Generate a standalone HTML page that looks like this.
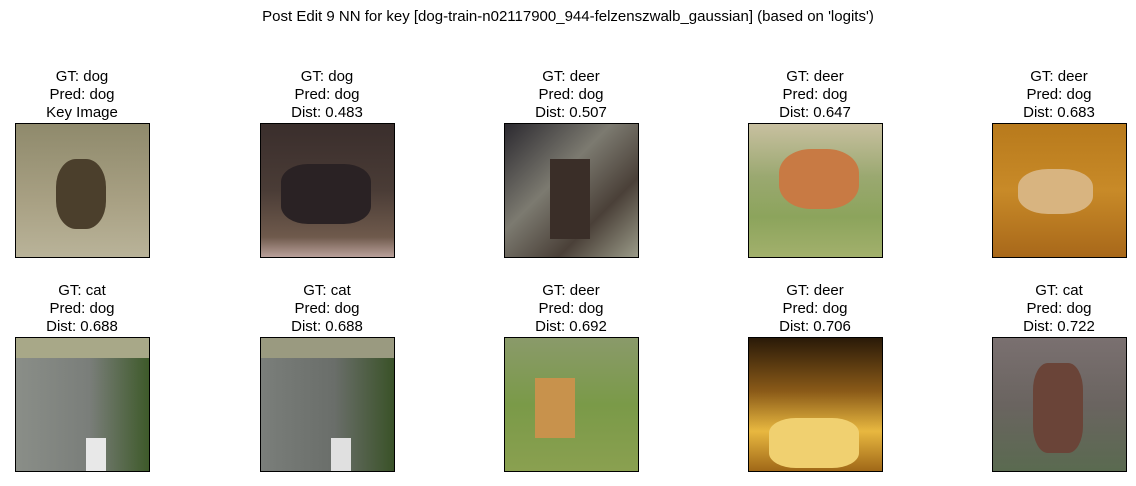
<!DOCTYPE html>
<html><head><meta charset="utf-8"><style>
body{margin:0;width:1136px;height:486px;background:#fff;font-family:"Liberation Sans","DejaVu Sans",sans-serif;position:relative;overflow:hidden}
.t{position:absolute;top:8px;left:0;width:1136px;text-align:center;font-size:15px;color:#000}
.c{position:absolute;width:200px;text-align:center;font-size:15px;line-height:18px;color:#000}
.im{position:absolute;width:133px;height:133px;border:1px solid #000;overflow:hidden}
.im div{position:absolute}
</style></head><body>
<div class="t">Post Edit 9 NN for key [dog-train-n02117900_944-felzenszwalb_gaussian] (based on 'logits')</div>

<div class="c" style="left:-18px;top:68px">GT: dog<br>Pred: dog<br>Key Image</div>
<div class="c" style="left:227px;top:68px">GT: dog<br>Pred: dog<br>Dist: 0.483</div>
<div class="c" style="left:471px;top:68px">GT: deer<br>Pred: dog<br>Dist: 0.507</div>
<div class="c" style="left:715px;top:68px">GT: deer<br>Pred: dog<br>Dist: 0.647</div>
<div class="c" style="left:959px;top:68px">GT: deer<br>Pred: dog<br>Dist: 0.683</div>

<div class="c" style="left:-18px;top:282px">GT: cat<br>Pred: dog<br>Dist: 0.688</div>
<div class="c" style="left:227px;top:282px">GT: cat<br>Pred: dog<br>Dist: 0.688</div>
<div class="c" style="left:471px;top:282px">GT: deer<br>Pred: dog<br>Dist: 0.692</div>
<div class="c" style="left:715px;top:282px">GT: deer<br>Pred: dog<br>Dist: 0.706</div>
<div class="c" style="left:959px;top:282px">GT: cat<br>Pred: dog<br>Dist: 0.722</div>

<div class="im" style="left:15px;top:123px;background:linear-gradient(180deg,#8f8a6c,#a9a184 60%,#b9b399)"><div style="left:40px;top:35px;width:50px;height:70px;background:#4b3f2c;border-radius:40%"></div></div>
<div class="im" style="left:260px;top:123px;background:linear-gradient(180deg,#3a2e2c,#4a3c36 50%,#6f5a4c 85%,#b9a09a)"><div style="left:20px;top:40px;width:90px;height:60px;background:#2a2224;border-radius:30%"></div></div>
<div class="im" style="left:504px;top:123px;background:linear-gradient(135deg,#2c2a30,#7c7a70 40%,#4a4038 70%,#9a9a88)"><div style="left:45px;top:35px;width:40px;height:80px;background:#3a2e28"></div></div>
<div class="im" style="left:748px;top:123px;background:linear-gradient(180deg,#c8c0a0,#9aa870 40%,#8ca45c 70%,#a2b06c)"><div style="left:30px;top:25px;width:80px;height:60px;background:#c87a44;border-radius:40%"></div></div>
<div class="im" style="left:992px;top:123px;background:linear-gradient(180deg,#b87a1c,#c88a28 50%,#a8681a)"><div style="left:25px;top:45px;width:75px;height:45px;background:#d8b480;border-radius:40%"></div></div>

<div class="im" style="left:15px;top:337px;background:linear-gradient(90deg,#8a8e88,#7a7e7a 55%,#3e5a2a)"><div style="left:0;top:0;width:133px;height:20px;background:#a8a888"></div><div style="left:70px;top:100px;width:20px;height:35px;background:#e8e8e8"></div></div>
<div class="im" style="left:260px;top:337px;background:linear-gradient(90deg,#7a7e7a,#6a6e6a 55%,#3a5228)"><div style="left:0;top:0;width:133px;height:20px;background:#9a9a80"></div><div style="left:70px;top:100px;width:20px;height:35px;background:#e0e0e0"></div></div>
<div class="im" style="left:504px;top:337px;background:linear-gradient(180deg,#8a9a6a,#7a9a48 50%,#8aa050)"><div style="left:30px;top:40px;width:40px;height:60px;background:#c8924c"></div></div>
<div class="im" style="left:748px;top:337px;background:linear-gradient(180deg,#2a1a08,#8a5a18 40%,#e8b840 70%,#a06818)"><div style="left:20px;top:80px;width:90px;height:50px;background:#f0d070;border-radius:30%"></div></div>
<div class="im" style="left:992px;top:337px;background:linear-gradient(180deg,#7a7070,#6a6460 50%,#5a6a50)"><div style="left:40px;top:25px;width:50px;height:90px;background:#6a4438;border-radius:30%"></div></div>
</body></html>
